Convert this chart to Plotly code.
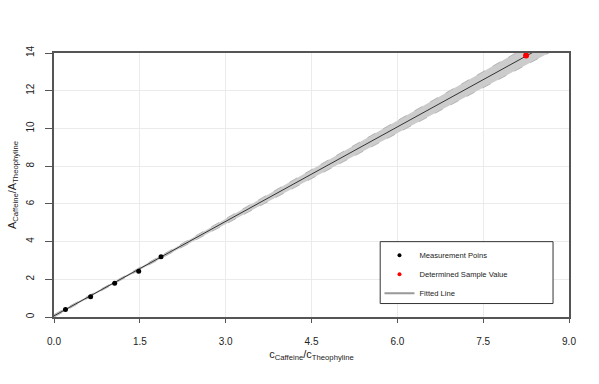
import plotly.graph_objects as go

# ---- data ----
meas_x = [0.20, 0.64, 1.06, 1.48, 1.87]
meas_y = [0.40, 1.07, 1.79, 2.43, 3.19]
sample_x = [8.25]
sample_y = [13.87]
fit_intercept = 0.06
fit_slope = 1.67
band_x = [0, 1, 2, 3, 4, 5, 6, 7, 8, 9]
band_half = [0.07, 0.05, 0.08, 0.14, 0.20, 0.26, 0.33, 0.39, 0.45, 0.52]
x_ticks = [0.0, 1.5, 3.0, 4.5, 6.0, 7.5, 9.0]
y_ticks = [0, 2, 4, 6, 8, 10, 12, 14]

fit_y = [fit_intercept + fit_slope * x for x in band_x]
lower = [f - h for f, h in zip(fit_y, band_half)]
upper = [f + h for f, h in zip(fit_y, band_half)]

FONT = "Liberation Sans, Arial, sans-serif"

fig = go.Figure()
fig.add_trace(go.Scatter(x=band_x, y=lower, mode="lines",
                         line=dict(color="#a8a8a8", width=0.8, dash="dash"),
                         showlegend=False, hoverinfo="skip"))
fig.add_trace(go.Scatter(x=band_x, y=upper, mode="lines", fill="tonexty",
                         fillcolor="#cccccc",
                         line=dict(color="#a8a8a8", width=0.8, dash="dash"),
                         showlegend=False, hoverinfo="skip"))
fig.add_trace(go.Scatter(x=band_x, y=fit_y, mode="lines",
                         line=dict(color="#333333", width=1),
                         showlegend=False))
fig.add_trace(go.Scatter(x=meas_x, y=meas_y, mode="markers",
                         marker=dict(color="black", size=5),
                         showlegend=False))
fig.add_trace(go.Scatter(x=sample_x, y=sample_y, mode="markers",
                         marker=dict(color="red", size=6),
                         showlegend=False))
# legend entries
fig.add_trace(go.Scatter(x=[None], y=[None], mode="markers",
                         marker=dict(color="black", size=4),
                         name="Measurement Poins"))
fig.add_trace(go.Scatter(x=[None], y=[None], mode="markers",
                         marker=dict(color="red", size=4),
                         name="Determined Sample Value"))
fig.add_trace(go.Scatter(x=[None], y=[None], mode="lines",
                         line=dict(color="#999999", width=2),
                         name="Fitted Line"))

axis_common = dict(showline=True, mirror=True, linecolor="#555555", linewidth=2,
                   showgrid=True, gridcolor="#ebebeb", gridwidth=1, zeroline=False,
                   ticks="outside", tickcolor="#555555", tickwidth=1,
                   automargin=False,
                   tickfont=dict(family=FONT, size=10, color="#222222"))

fig.update_layout(
    width=599, height=384,
    margin=dict(l=53.5, r=30, t=53, b=66.5),
    paper_bgcolor="white", plot_bgcolor="white",
    font=dict(family=FONT, size=10, color="#222222"),
    xaxis=dict(range=[0, 9], tickvals=x_ticks, ticktext=[f"{v:.1f}" for v in x_ticks],
               ticklen=4, ticklabelstandoff=10,
               title=dict(text="c<sub>Caffeine</sub>/c<sub>Theophyline</sub>",
                          font=dict(family=FONT, size=11), standoff=4),
               **axis_common),
    yaxis=dict(range=[0, 14], tickvals=y_ticks, ticklen=7, tickangle=-90,
               ticklabelstandoff=7,
               title=dict(text="A<sub>Caffeine</sub>/A<sub>Theophyline</sub>",
                          font=dict(family=FONT, size=11), standoff=6),
               **axis_common),
    legend=dict(x=0.632, y=0.289, xanchor="left", yanchor="top",
                traceorder="normal",
                bgcolor="rgba(0,0,0,0)", borderwidth=0,
                font=dict(family=FONT, size=7.6, color="#222222"),
                itemwidth=30, tracegroupgap=0),
    shapes=[dict(type="rect", xref="paper", yref="paper",
                 x0=0.6334, x1=0.969, y0=0.051, y1=0.2854,
                 line=dict(color="#333333", width=1), fillcolor="white",
                 layer="above")],
)

fig.write_html("out.html")
